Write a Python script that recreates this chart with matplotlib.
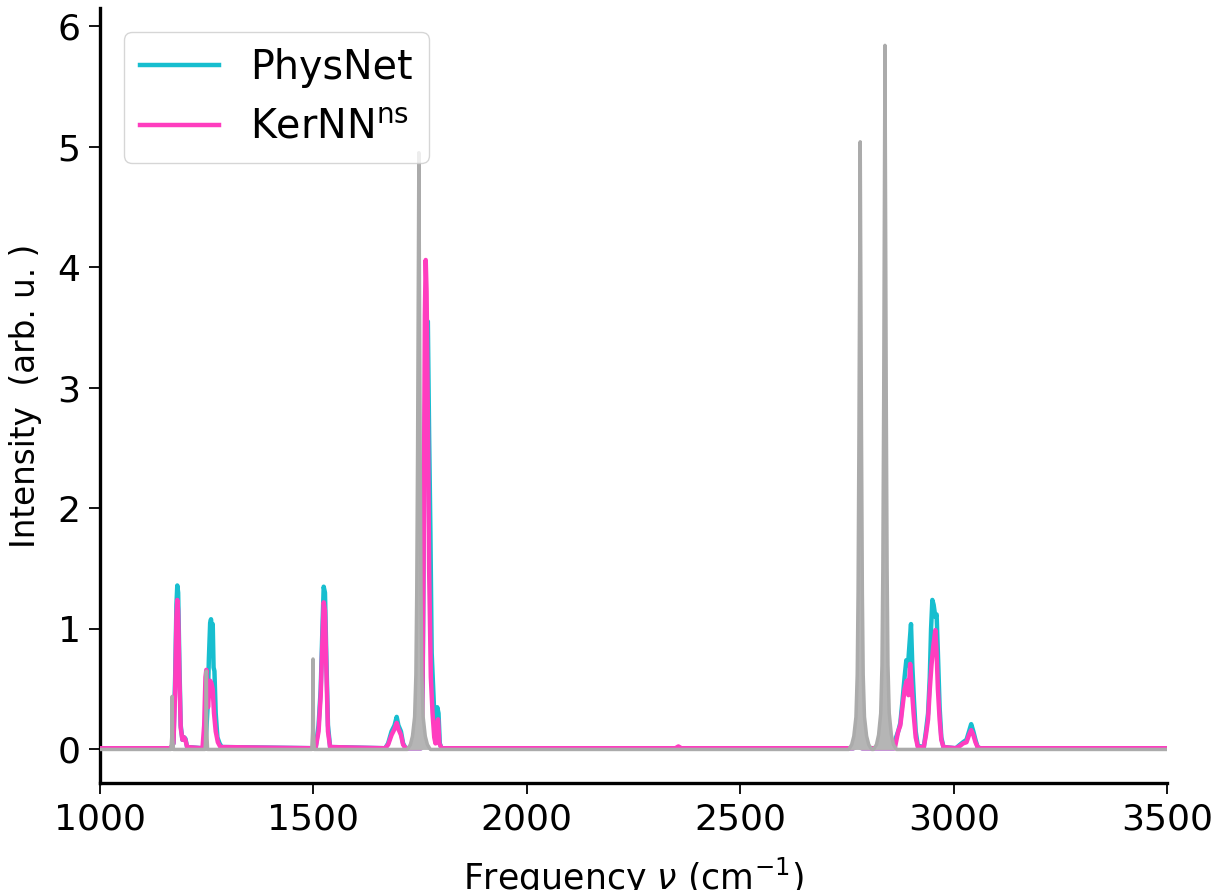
import matplotlib
matplotlib.use("Agg")
import matplotlib.pyplot as plt

# ---- data ----
physnet_freq = [1000, 1165, 1172, 1176, 1179, 1181, 1183, 1186, 1189, 1193, 1197, 1200, 1204,
                1240, 1248, 1252, 1255, 1258, 1260, 1262, 1264, 1266, 1268, 1271, 1275, 1280, 1285,
                1505, 1512, 1517, 1521, 1524, 1527, 1530, 1534, 1539,
                1668, 1675, 1683, 1690, 1695, 1699, 1705, 1710, 1716,
                1752, 1756, 1760, 1764, 1768, 1771, 1774, 1777, 1780, 1783, 1787, 1790, 1793, 1796, 1800,
                2765, 2775, 2785,
                2860, 2865, 2870, 2875, 2880, 2885, 2889, 2893, 2897, 2900, 2903, 2907, 2911, 2916,
                2930, 2935, 2940, 2944, 2947, 2950, 2953, 2957, 2960, 2963, 2967, 2971, 2976,
                3005, 3015, 3022, 3030, 3036, 3041, 3046, 3051, 3056, 3062, 3500]
physnet_int = [0.01, 0.01, 0.05, 0.6, 1.2, 1.36, 1.3, 0.7, 0.2, 0.08, 0.1, 0.09, 0.02,
               0.01, 0.1, 0.35, 0.75, 1.05, 1.08, 1.0, 1.04, 0.68, 0.65, 0.3, 0.1, 0.05, 0.02,
               0.01, 0.2, 0.5, 1.0, 1.35, 1.3, 0.8, 0.2, 0.02,
               0.01, 0.05, 0.15, 0.2, 0.27, 0.2, 0.15, 0.05, 0.01,
               0.01, 0.6, 2.5, 3.4, 3.55, 2.6, 1.8, 0.8, 0.55, 0.3, 0.15, 0.35, 0.3, 0.05, 0.01,
               0.01, 0.03, 0.01,
               0.01, 0.1, 0.15, 0.22, 0.4, 0.6, 0.74, 0.7, 0.9, 1.04, 0.7, 0.4, 0.15, 0.03,
               0.02, 0.15, 0.3, 0.6, 1.0, 1.24, 1.2, 1.1, 1.12, 0.8, 0.35, 0.1, 0.02,
               0.01, 0.04, 0.06, 0.08, 0.15, 0.21, 0.15, 0.08, 0.02, 0.01, 0.01]

kernn_freq = [1000, 1165, 1172, 1176, 1179, 1181, 1183, 1186, 1189, 1193, 1197, 1200, 1204,
              1240, 1244, 1247, 1249, 1251, 1253, 1256, 1258, 1261, 1264, 1267, 1271, 1276, 1282,
              1505, 1512, 1517, 1521, 1524, 1527, 1530, 1534, 1539,
              1668, 1675, 1683, 1690, 1695, 1699, 1705, 1710, 1716,
              1752, 1755, 1758, 1761, 1763, 1765, 1768, 1771, 1775, 1779, 1783, 1786, 1789, 1792, 1795, 1800,
              2348, 2355, 2362, 2765, 2775, 2785,
              2862, 2866, 2870, 2875, 2880, 2885, 2890, 2894, 2898, 2902, 2906, 2911, 2916,
              2930, 2935, 2940, 2944, 2948, 2952, 2957, 2960, 2963, 2967, 2971, 2976,
              3005, 3015, 3022, 3030, 3036, 3041, 3046, 3051, 3056, 3062, 3500]
kernn_int = [0.01, 0.01, 0.05, 0.5, 1.1, 1.24, 1.15, 0.6, 0.18, 0.08, 0.1, 0.08, 0.02,
             0.01, 0.2, 0.6, 0.66, 0.5, 0.35, 0.5, 0.57, 0.55, 0.5, 0.3, 0.15, 0.06, 0.02,
             0.01, 0.15, 0.45, 0.9, 1.22, 1.15, 0.7, 0.15, 0.02,
             0.01, 0.04, 0.12, 0.17, 0.22, 0.17, 0.12, 0.04, 0.01,
             0.01, 0.3, 1.5, 3.6, 4.06, 3.8, 2.8, 1.5, 0.6, 0.3, 0.1, 0.05, 0.2, 0.25, 0.05, 0.01,
             0.01, 0.025, 0.01, 0.01, 0.03, 0.01,
             0.01, 0.08, 0.15, 0.2, 0.35, 0.5, 0.57, 0.45, 0.71, 0.5, 0.3, 0.1, 0.02,
             0.02, 0.12, 0.25, 0.5, 0.7, 0.85, 0.99, 0.8, 0.5, 0.25, 0.08, 0.02,
             0.01, 0.03, 0.05, 0.06, 0.12, 0.16, 0.12, 0.06, 0.02, 0.01, 0.01]

ref_freq = [1000, 1166, 1168, 1169, 1170, 1172,
            1246, 1248, 1249, 1250, 1252,
            1496, 1498, 1499, 1500, 1502,
            1720, 1727, 1732, 1737, 1740, 1742, 1744, 1747, 1750, 1752, 1754, 1757, 1762, 1767, 1774,
            2754, 2761, 2766, 2771, 2774, 2776, 2778, 2781, 2784, 2786, 2788, 2791, 2796, 2801, 2808,
            2812, 2819, 2824, 2829, 2832, 2834, 2836, 2839, 2842, 2844, 2846, 2849, 2854, 2859, 2866,
            3500]
ref_int = [0.0, 0.0, 0.1, 0.44, 0.1, 0.0,
           0.0, 0.15, 0.65, 0.15, 0.0,
           0.0, 0.15, 0.75, 0.15, 0.0,
           0.0, 0.04, 0.11, 0.27, 0.62, 1.3, 2.5, 4.95, 2.5, 1.3, 0.62, 0.27, 0.11, 0.04, 0.0,
           0.0, 0.04, 0.11, 0.27, 0.62, 1.3, 2.6, 5.04, 2.6, 1.3, 0.62, 0.27, 0.11, 0.04, 0.0,
           0.0, 0.04, 0.12, 0.3, 0.7, 1.5, 2.9, 5.84, 2.9, 1.5, 0.7, 0.3, 0.12, 0.04, 0.0,
           0.0]

series_labels = ["PhysNet", r"KerNN$^{\mathregular{ns}}$"]
x_ticks = [1000, 1500, 2000, 2500, 3000, 3500]
y_ticks = [0, 1, 2, 3, 4, 5, 6]

# ---- figure ----
fig = plt.figure(figsize=(12.17, 8.90), dpi=100)
ax = fig.add_axes([0.0822, 0.120, 0.8768, 0.871])

cyan = "#17becf"
pink = "#ff3dbf"
grey_line = "#ababab"
grey_fill = "#b5b5b5"

ax.plot(physnet_freq, physnet_int, color=cyan, lw=3.2, label=series_labels[0], zorder=2)
ax.plot(kernn_freq, kernn_int, color=pink, lw=3.2, label=series_labels[1], zorder=3)
ax.fill_between(ref_freq, 0, ref_int, color=grey_fill, lw=0, zorder=4)
ax.plot(ref_freq, ref_int, color=grey_line, lw=2.5, zorder=5)

ax.set_xlim(1000, 3500)
ax.set_ylim(-0.28, 6.15)
ax.set_xticks(x_ticks)
ax.set_yticks(y_ticks)

for s in ["top", "right"]:
    ax.spines[s].set_visible(False)
for s in ["left", "bottom"]:
    ax.spines[s].set_linewidth(2.4)

ax.tick_params(axis="both", labelsize=26, length=8, width=1.3, pad=6)

ax.set_xlabel(r"Frequency $\nu$ (cm$^{-1}$)", fontsize=25, labelpad=14)
ax.set_ylabel("Intensity  (arb. u. )", fontsize=23.5, labelpad=11)

leg = ax.legend(loc="upper left", fontsize=28.5, handlelength=2.0, handletextpad=0.8,
                borderaxespad=0.6, frameon=True)
for h in leg.get_lines():
    h.set_linewidth(3.2)

fig.savefig("out.png", dpi=100)
